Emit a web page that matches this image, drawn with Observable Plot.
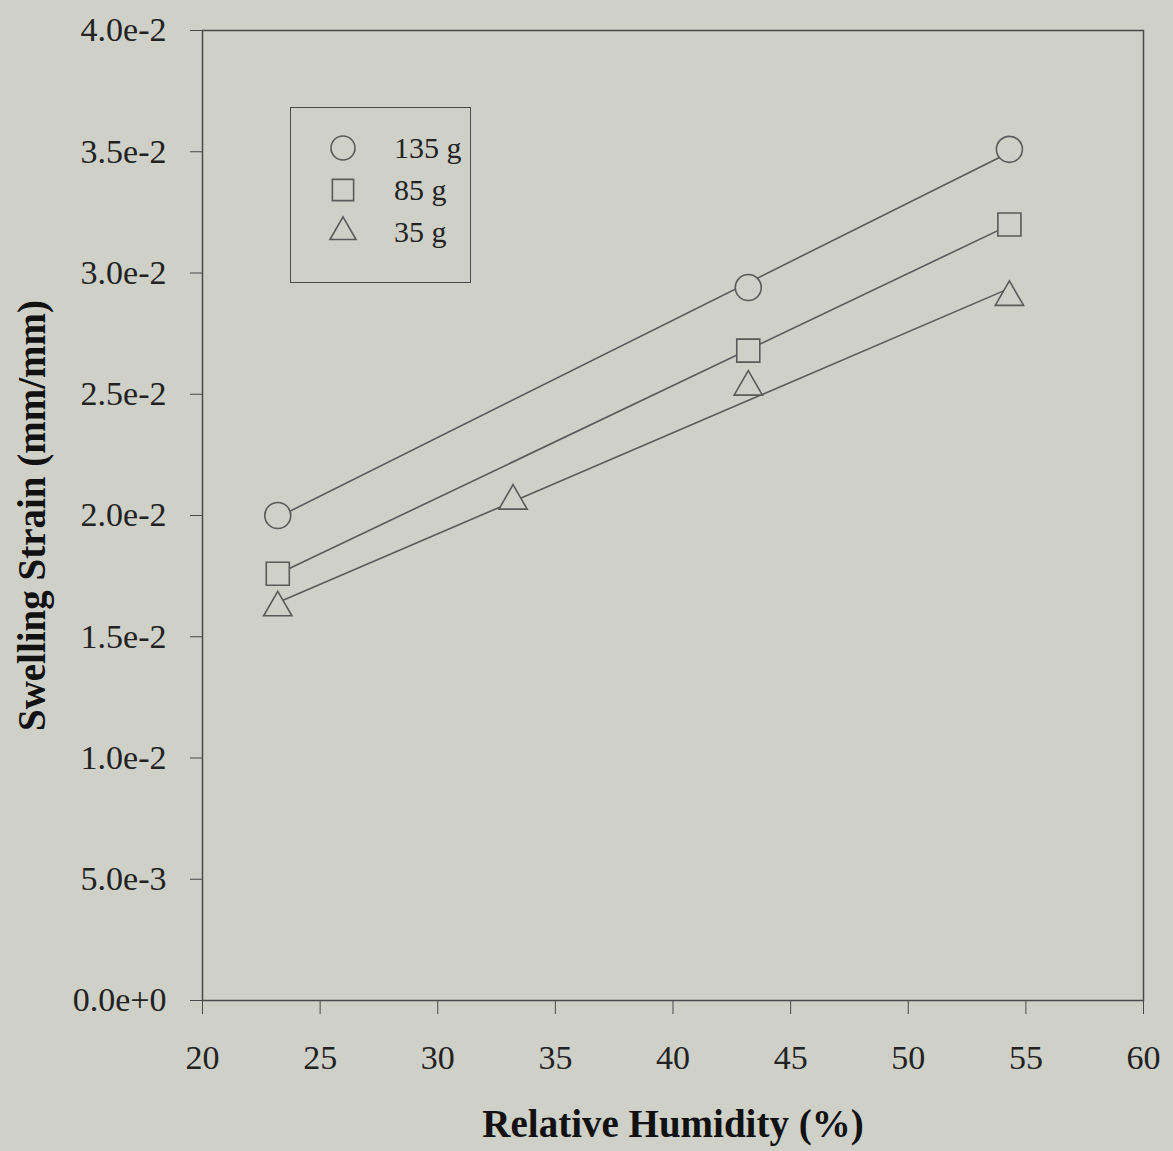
<!DOCTYPE html>
<html><head><meta charset="utf-8">
<script src="https://cdn.jsdelivr.net/npm/d3@7"></script>
<script src="https://cdn.jsdelivr.net/npm/@observablehq/plot@0.6"></script>
<style>
body{margin:0;background:#cfd0c8;}
#wrap{position:relative;width:1173px;height:1151px;}
#legend{position:absolute;left:290px;top:107px;width:181px;height:176px;border:1.5px solid #4a4a4a;box-sizing:border-box;font-family:"Liberation Serif",serif;font-size:30px;color:#222;}
.row{position:absolute;left:0;height:40px;display:flex;align-items:center;}
.row svg{position:absolute;left:34px;top:0;}
.row span{position:absolute;left:103px;white-space:nowrap;}
</style></head><body><div id="wrap"></div>
<script>
// Data
const seriesNames = ["135 g", "85 g", "35 g"];
const symbols = ["circle", "square", "triangle"];
const rh135 = [23.2, 43.2, 54.3];
const strain135 = [0.0200, 0.0294, 0.0351];
const rh85 = [23.2, 43.2, 54.3];
const strain85 = [0.0176, 0.0268, 0.0320];
const rh35 = [23.2, 33.2, 43.2, 54.3];
const strain35 = [0.0162, 0.0206, 0.0253, 0.0290];
const xTicks = [20, 25, 30, 35, 40, 45, 50, 55, 60];
const yTicks = [0, 0.005, 0.01, 0.015, 0.02, 0.025, 0.03, 0.035, 0.04];

const mk = (name, xs, ys) => xs.map((x, i) => ({series: name, rh: x, strain: ys[i]}));
const groups = [mk(seriesNames[0], rh135, strain135), mk(seriesNames[1], rh85, strain85), mk(seriesNames[2], rh35, strain35)];
const radii = [13, 13, 10.5];
const ink = "#5a5a5a";
const bg = "#cfd0c8";

const marks = [
  Plot.frame({stroke: "#4a4a4a", strokeWidth: 1.5}),
  Plot.axisY({ticks: yTicks, tickFormat: d3.format(".1e"), tickSize: 12, tickPadding: 24, fontSize: 34, label: null, stroke: "#4a4a4a"}),
  Plot.axisX({ticks: xTicks, tickFormat: d3.format("d"), tickSize: 14, tickPadding: 30, fontSize: 34, label: null, stroke: "#4a4a4a"}),
];
groups.forEach((g) => marks.push(Plot.linearRegressionY(g, {x: "rh", y: "strain", ci: 0, stroke: ink, strokeWidth: 1.6})));
groups.forEach((g, i) => marks.push(Plot.dot(g, {x: "rh", y: "strain", symbol: () => symbols[i], r: radii[i], fill: bg, stroke: ink, strokeWidth: 1.6})));
marks.push(Plot.text(["Relative Humidity (%)"], {text: d => d, frameAnchor: "bottom", dy: 136, textAnchor: "middle", fontWeight: "bold", fontSize: 39, fill: "#111"}));
marks.push(Plot.text(["Swelling Strain (mm/mm)"], {text: d => d, frameAnchor: "left", dx: -170, rotate: -90, textAnchor: "middle", fontWeight: "bold", fontSize: 39, fill: "#111"}));

const chart = Plot.plot({
  width: 1173, height: 1151,
  marginLeft: 202, marginRight: 30, marginTop: 30, marginBottom: 151,
  x: {domain: [20, 60]},
  y: {domain: [0, 0.04]},
  symbol: {type: "identity"},
  style: {fontFamily: "Liberation Serif, serif", background: "transparent", color: "#222"},
  marks
});
const wrap = document.getElementById("wrap");
wrap.appendChild(chart);

// Legend
const legend = document.createElement("div");
legend.id = "legend";
seriesNames.forEach((name, i) => {
  const row = document.createElement("div");
  row.className = "row";
  row.style.top = (20 + i * 42) + "px";
  const s = d3.create("svg").attr("width", 36).attr("height", 40);
  s.append("path").attr("transform", "translate(18,20)")
    .attr("d", d3.symbol(i === 0 ? d3.symbolCircle : i === 1 ? d3.symbolSquare : d3.symbolTriangle, Math.PI * radii[i] * radii[i] * 0.85)())
    .attr("fill", "none").attr("stroke", ink).attr("stroke-width", 1.6);
  row.appendChild(s.node());
  const t = document.createElement("span");
  t.textContent = name;
  row.appendChild(t);
  legend.appendChild(row);
});
wrap.appendChild(legend);
</script>
</body></html>
